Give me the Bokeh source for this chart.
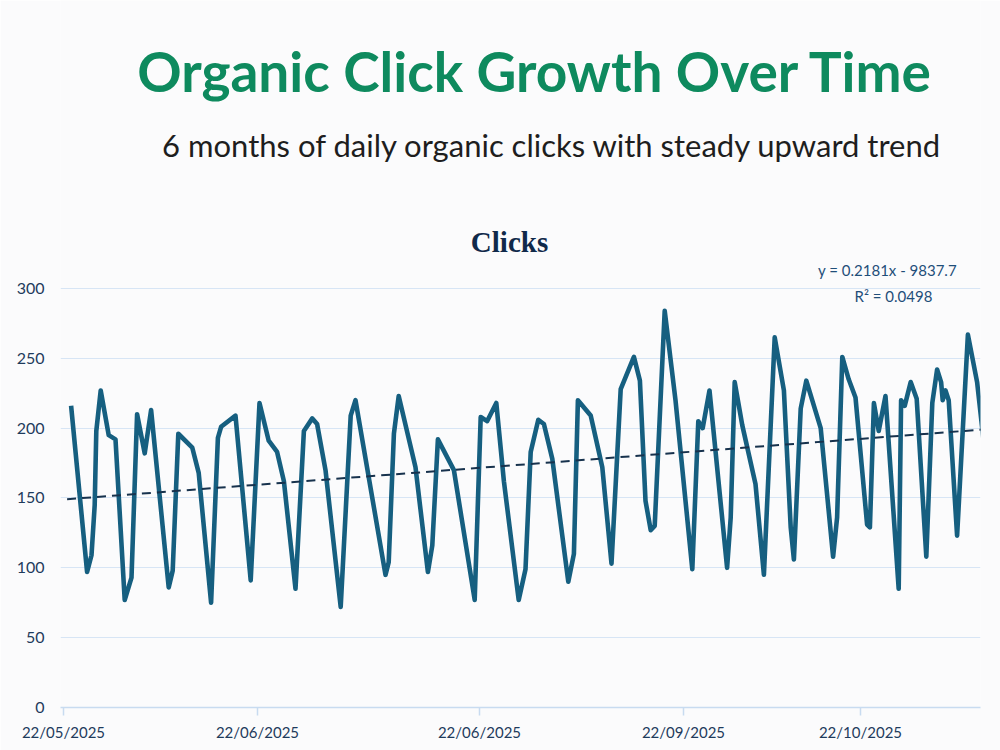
from bokeh.plotting import figure
from bokeh.models import Label, FixedTicker, Range1d
from bokeh.embed import file_html
from bokeh.resources import INLINE

# ---------------- data ----------------
days = [1.9, 5.9, 7.0, 7.8, 8.2, 9.3, 11.3, 13.0, 15.3, 17.0,
        18.4, 20.3, 21.9, 26.3, 27.3, 28.7, 32.2, 33.8, 36.9, 38.6,
        39.4, 43.0, 46.8, 49.0, 51.3, 53.4, 55.1, 58.0, 60.1, 62.2,
        63.4, 65.5, 69.3, 71.8, 73.0, 80.5, 81.3, 82.6, 83.8, 88.0,
        91.1, 92.2, 93.6, 97.6, 102.8, 104.3, 105.9, 108.2, 110.1, 113.8,
        115.5, 116.8, 118.7, 120.1, 122.2, 126.2, 127.6, 128.6, 131.8, 134.7,
        137.0, 139.3, 142.6, 144.1, 145.5, 146.8, 147.8, 150.3, 153.0, 157.2,
        158.7, 159.8, 161.5, 165.9, 166.8, 167.8, 169.7, 173.0, 175.1, 177.8,
        180.1, 181.8, 182.6, 184.3, 185.7, 189.3, 192.4, 193.4, 194.7, 196.3,
        198.0, 200.9, 201.6, 202.6, 203.8, 205.5, 208.8, 209.4, 210.3, 211.8,
        213.3, 215.7, 217.2, 218.4, 219.4, 219.8, 220.5, 221.3, 223.4, 226.1,
        228.4, 230.1]
clicks = [216, 97, 109, 145, 198, 227, 195, 192, 77, 93,
          210, 182, 213, 86, 98, 196, 186, 168, 75, 193,
          201, 209, 91, 218, 191, 183, 162, 85, 198, 207,
          203, 170, 72, 209, 220, 95, 104, 196, 223, 172,
          97, 116, 192, 170, 77, 208, 205, 218, 162, 77,
          99, 183, 206, 203, 178, 90, 110, 220, 209, 172,
          103, 228, 251, 234, 148, 127, 130, 284, 220, 99,
          205, 200, 227, 100, 136, 233, 202, 160, 95, 265,
          227, 129, 106, 214, 234, 200, 108, 136, 251, 235,
          222, 131, 129, 218, 198, 223, 85, 220, 216, 233,
          221, 108, 218, 242, 233, 220, 227, 220, 123, 267,
          233, 189]

tick_days = [0.0, 48.5, 104.0, 155.0, 199.25]
tick_labels = ["22/05/2025", "22/06/2025", "22/06/2025", "22/09/2025", "22/10/2025"]
y_ticks = [0, 50, 100, 150, 200, 250, 300]

trend_slope = 0.2181      # clicks per day
trend_start = 148.9       # trend value at day 0
equation_text = "y = 0.2181x - 9837.7"
r2_text = "R\u00b2 = 0.0498"

title_text = "Organic Click Growth Over Time"
subtitle_text = "6 months of daily organic clicks with steady upward trend"
chart_title = "Clicks"

# ---------------- figure ----------------
BG = "#fbfbfc"
p = figure(width=1000, height=750, output_backend="svg", toolbar_location=None,
           title=None,
           x_range=Range1d(-0.75, 229.25), y_range=Range1d(0, 506.2),
           min_border_left=60, min_border_right=20, min_border_top=0,
           min_border_bottom=43)
p.background_fill_color = BG
p.border_fill_color = BG
p.outline_line_color = None

# line + trend
p.line(days, clicks, line_color="#165f80", line_width=4.6, line_join="round")
trend_x = [days[0] - 1.0, days[-1]]
trend_y = [trend_start + trend_slope * x for x in trend_x]
p.line(trend_x, trend_y, line_color="#17324d", line_width=2, line_dash="9 6")

# axes
p.xgrid.grid_line_color = None
p.ygrid.grid_line_color = "#d7e5f5"
p.ygrid.grid_line_width = 1.2

p.yaxis.ticker = FixedTicker(ticks=y_ticks)
p.yaxis.axis_line_color = None
p.yaxis.major_tick_line_color = None
p.yaxis.minor_tick_line_color = None
p.yaxis.major_tick_out = 0
p.yaxis.major_tick_in = 0
p.yaxis.major_label_standoff = 16
p.yaxis.major_label_text_font = "Lato"
p.yaxis.major_label_text_font_size = "16px"
p.yaxis.major_label_text_color = "#1f3b5c"

p.xaxis.ticker = FixedTicker(ticks=tick_days)
p.xaxis.major_label_overrides = {t: l for t, l in zip(tick_days, tick_labels)}
p.xaxis.axis_line_color = "#c8dbf0"
p.xaxis.axis_line_width = 1.5
p.xaxis.major_tick_line_color = "#c8dbf0"
p.xaxis.major_tick_line_width = 1.5
p.xaxis.major_tick_out = 8
p.xaxis.major_tick_in = 0
p.xaxis.minor_tick_line_color = None
p.xaxis.major_label_standoff = 7
p.xaxis.major_label_text_font = "Lato"
p.xaxis.major_label_text_font_size = "15px"
p.xaxis.major_label_text_color = "#1f3b5c"

# texts (placed in data space above the plotted values)
p.add_layout(Label(x=118, y=455.5, text=title_text, text_align="center",
                   text_baseline="middle", text_font="Lato", text_font_style="bold",
                   text_font_size="55px", text_color="#0e8a5e"))
p.add_layout(Label(x=122.25, y=403.0, text=subtitle_text, text_align="center",
                   text_baseline="middle", text_font="Lato",
                   text_font_size="31px", text_color="#1e1e1e"))
p.add_layout(Label(x=111.5, y=333.5, text=chart_title, text_align="center",
                   text_baseline="middle", text_font="Liberation Serif",
                   text_font_style="bold", text_font_size="29px", text_color="#10294a"))
p.add_layout(Label(x=206.0, y=312.9, text=equation_text, text_align="center",
                   text_baseline="middle", text_font="Lato",
                   text_font_size="15px", text_color="#1f4e79"))
p.add_layout(Label(x=207.5, y=294.3, text=r2_text, text_align="center",
                   text_baseline="middle", text_font="Lato",
                   text_font_size="15px", text_color="#1f4e79"))

open("out.html", "w").write(file_html(p, INLINE))
